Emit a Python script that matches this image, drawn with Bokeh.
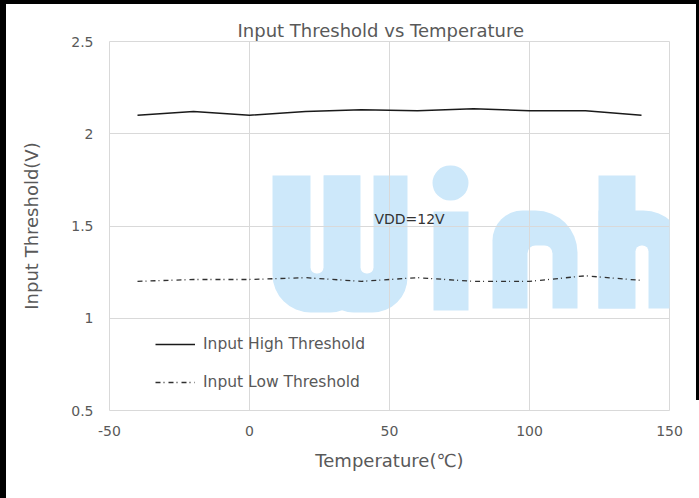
from bokeh.plotting import figure
from bokeh.models import BoxAnnotation, Label, FixedTicker, Spacer
from bokeh.layouts import row, column
from bokeh.embed import file_html
from bokeh.resources import INLINE

# ---- data ----
temperature = [-40, -20, 0, 20, 40, 60, 80, 100, 120, 140]
high_threshold = [2.10, 2.12, 2.10, 2.12, 2.13, 2.125, 2.135, 2.125, 2.125, 2.10]
low_threshold = [1.20, 1.21, 1.21, 1.22, 1.20, 1.22, 1.20, 1.20, 1.23, 1.205]
x_ticks = [-50, 0, 50, 100, 150]
x_tick_labels = ["-50", "0", "50", "100", "150"]
y_ticks = [0.5, 1, 1.5, 2, 2.5]
y_tick_labels = ["0.5", "1", "1.5", "2", "2.5"]
series_names = ["Input High Threshold", "Input Low Threshold"]

FONT = "DejaVu Sans"
GREY = "#595959"

LB, TB = 6, 4  # left / top frame bar sizes

p = figure(width=699 - LB - 3, height=498 - TB, x_range=(-50, 150), y_range=(0.5, 2.5),
           output_backend="svg", toolbar_location=None,
           min_border_left=109 - LB, min_border_right=27, min_border_top=41 - TB,
           min_border_bottom=88)
p.background_fill_color = "white"
p.border_fill_color = "white"
p.outline_line_color = "#d9d9d9"

p.title.text = "Input Threshold vs Temperature"
p.title.align = "left"
p.title.offset = 128
p.title.text_font = FONT
p.title.text_font_size = "18px"
p.title.text_font_style = "normal"
p.title.text_color = GREY
p.title.standoff = 2

for ax in (p.xaxis[0], p.yaxis[0]):
    ax.axis_line_color = None
    ax.major_tick_line_color = None
    ax.minor_tick_line_color = None
    ax.major_tick_out = 0
    ax.major_tick_in = 0
    ax.major_label_text_font = FONT
    ax.major_label_text_font_size = "14px"
    ax.major_label_text_color = GREY
    ax.axis_label_text_font = FONT
    ax.axis_label_text_font_size = "18px"
    ax.axis_label_text_font_style = "normal"
    ax.axis_label_text_color = GREY

p.xaxis.ticker = FixedTicker(ticks=x_ticks)
p.yaxis.ticker = FixedTicker(ticks=y_ticks)
p.xaxis.major_label_overrides = {t: l for t, l in zip(x_ticks, x_tick_labels)}
p.yaxis.major_label_overrides = {t: l for t, l in zip(y_ticks, y_tick_labels)}
p.xaxis.axis_label = "Temperature(℃)"
p.yaxis.axis_label = "Input Threshold(V)"
p.xaxis.major_label_standoff = 15
p.xaxis.axis_label_standoff = 11
p.yaxis.major_label_standoff = 16
p.yaxis.axis_label_standoff = 26

p.xgrid.grid_line_color = "#d9d9d9"
p.ygrid.grid_line_color = "#d9d9d9"

# ---- watermark (decorative, page-pixel layout mapped into the axes) ----
def dx(px):
    return -50 + (px - 109) * 200.0 / 560.0

def dy(py):
    return 2.5 - (py - 41) * 2.0 / 369.0

BLUE = "#cde8fa"
wm = [
    # (left, right, top, bottom, radius(tl,tr,br,bl), colour)
    (272, 360, 175, 312, (0, 0, 30, 38), BLUE),
    (323, 407, 175, 312, (0, 0, 35, 30), BLUE),
    (310, 323, 170, 273, (0, 0, 6, 6), "white"),
    (360, 373, 170, 273, (0, 0, 6, 6), "white"),
    (432, 468, 165, 200, (18, 18, 18, 18), BLUE),
    (433, 468, 211, 310, (0, 0, 0, 0), BLUE),
    (492, 577, 210, 308, (30, 42, 0, 0), BLUE),
    (527, 552, 245, 312, (8, 8, 0, 0), "white"),
    (598, 635, 175, 308, (0, 0, 0, 0), BLUE),
    (598, 683, 210, 308, (0, 40, 0, 0), BLUE),
    (635, 648, 245, 312, (6, 6, 0, 0), "white"),
]
for l, r, t, b, rad, col in wm:
    p.add_layout(BoxAnnotation(left=dx(l), right=dx(r), top=dy(t), bottom=dy(b),
                               fill_color=col, fill_alpha=1.0, line_alpha=0,
                               border_radius=rad, level="image"))

# ---- series ----
p.line(temperature, high_threshold, line_color="#1a1a1a", line_width=1.5,
       legend_label=series_names[0])
p.line(temperature, low_threshold, line_color="#303030", line_width=1.3,
       line_dash="5 3 1 4", legend_label=series_names[1])

p.add_layout(Label(x=44.6, y=1.538, text="VDD=12V", text_font=FONT,
                   text_font_size="14px", text_color="#333333",
                   text_baseline="middle", text_align="left"))

lg = p.legend[0]
lg.location = (46, 18)
lg.padding = 0
lg.margin = 0
lg.spacing = 18
lg.glyph_width = 40
lg.glyph_height = 20
lg.label_height = 20
lg.label_standoff = 8
lg.border_line_color = None
lg.background_fill_alpha = 0
lg.label_text_font = FONT
lg.label_text_font_size = "15.5px"
lg.label_text_color = GREY

# ---- outer black frame of the picture ----
left_bar = Spacer(width=LB, height=498, styles={"background-color": "black"})
top_bar = Spacer(width=699 - LB - 3, height=TB, styles={"background-color": "black"})
right_bar = Spacer(width=3, height=400, styles={"background-color": "black"})
right_rest = Spacer(width=3, height=98, styles={"background-color": "white"})

layout = row(left_bar, column(top_bar, p, spacing=0), column(right_bar, right_rest, spacing=0),
             spacing=0)

open("out.html", "w").write(file_html(layout, INLINE))
